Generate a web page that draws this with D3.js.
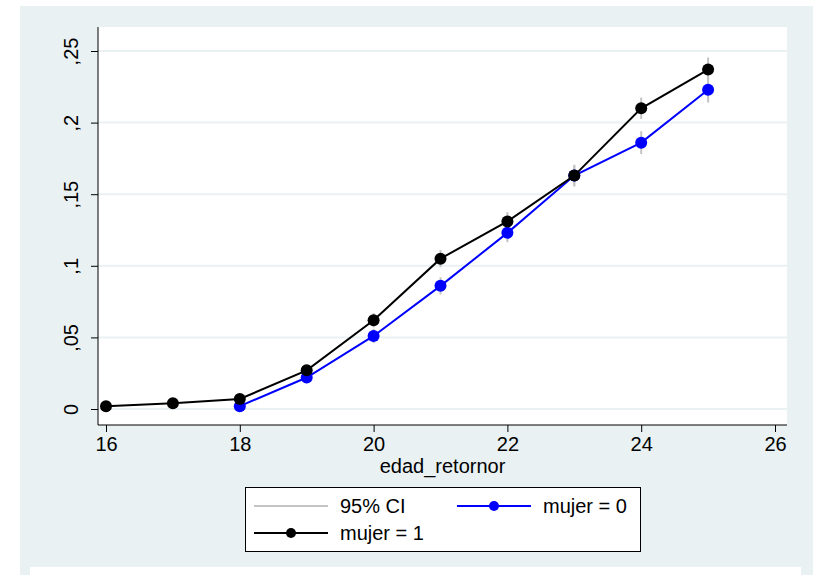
<!DOCTYPE html>
<html>
<head>
<meta charset="utf-8">
<script src="https://cdn.jsdelivr.net/npm/d3@7"></script>
<style>
	body { margin: 0; background: #ffffff; }
	svg { display: block; }
	text { font-family: "Liberation Sans", Arial, sans-serif; fill: #000; }
</style>
</head>
<body>
<div id="chart"></div>
<script>
"use strict";

// ages on the x axis
var edad0 = [18, 19, 20, 21, 22, 23, 24, 25];
var edad1 = [16, 17, 18, 19, 20, 21, 22, 23, 24, 25];
// predicted values
var mujer0 = [0.002, 0.022, 0.051, 0.086, 0.123, 0.163, 0.186, 0.223];
var mujer1 = [0.002, 0.004, 0.007, 0.027, 0.062, 0.105, 0.131, 0.163, 0.210, 0.237];
// half width of 95% CI
var ci0 = [0.0015, 0.004, 0.005, 0.006, 0.0065, 0.0075, 0.008, 0.009];
var ci1 = [0.001, 0.0015, 0.002, 0.004, 0.005, 0.006, 0.0065, 0.0075, 0.0075, 0.0085];

var xTicks = [16, 18, 20, 22, 24, 26];
var yTicks = [0, 0.05, 0.1, 0.15, 0.2, 0.25];
var yTickLabels = ["0", ",05", ",1", ",15", ",2", ",25"];
var legendLabels = ["95% CI", "mujer = 0", "mujer = 1"];
var xTitle = "edad_retornor";

var W = 813, H = 575;
var bg = "#e9f1f3";
var fontSize = 20;
var plot = {left: 98, right: 787, top: 27, bottom: 425};

var svg = d3.select("#chart").append("svg")
	.attr("width", W)
	.attr("height", H);

// graph region
svg.append("rect")
	.attr("x", 20).attr("y", 6)
	.attr("width", W - 20).attr("height", H - 6)
	.attr("fill", bg);
svg.append("rect")
	.attr("x", 30).attr("y", 567)
	.attr("width", 771).attr("height", 8)
	.attr("fill", "#ffffff");

// plot region
svg.append("rect")
	.attr("x", plot.left).attr("y", plot.top)
	.attr("width", plot.right - plot.left)
	.attr("height", plot.bottom - plot.top)
	.attr("fill", "#ffffff");

var scaleX = d3.scaleLinear().domain([16, 26]).range([106, 775]);
var scaleY = d3.scaleLinear().domain([0, 0.25]).range([409, 51]);

// grid lines
svg.append("g")
	.selectAll("line")
	.data(yTicks)
	.enter().append("line")
	.attr("x1", plot.left).attr("x2", plot.right)
	.attr("y1", function(d) { return scaleY(d); })
	.attr("y2", function(d) { return scaleY(d); })
	.attr("stroke", bg)
	.attr("stroke-width", 2);

// axes
var yAxisFunc = d3.axisLeft(scaleY)
	.tickValues(yTicks)
	.tickSizeInner(7)
	.tickSizeOuter(0)
	.tickFormat(function(d, i) { return yTickLabels[i]; });

var yAxis = svg.append("g")
	.attr("transform", "translate(" + plot.left + ",0)")
	.call(yAxisFunc);
yAxis.select(".domain").remove();
yAxis.selectAll(".tick line").attr("stroke", "#000");
yAxis.selectAll(".tick text")
	.attr("font-size", fontSize)
	.attr("font-family", "Liberation Sans, Arial, sans-serif")
	.attr("text-anchor", "middle")
	.attr("dy", null)
	.attr("x", null)
	.attr("y", null)
	.attr("transform", "translate(-20,0) rotate(-90)");
yAxis.append("line")
	.attr("x1", 0).attr("x2", 0)
	.attr("y1", plot.top).attr("y2", plot.bottom)
	.attr("stroke", "#000");

var xAxisFunc = d3.axisBottom(scaleX)
	.tickValues(xTicks)
	.tickSizeInner(7)
	.tickSizeOuter(0)
	.tickPadding(5)
	.tickFormat(d3.format("d"));

var xAxis = svg.append("g")
	.attr("transform", "translate(0," + plot.bottom + ")")
	.call(xAxisFunc);
xAxis.select(".domain").remove();
xAxis.selectAll(".tick line").attr("stroke", "#000");
xAxis.selectAll(".tick text")
	.attr("font-size", fontSize)
	.attr("font-family", "Liberation Sans, Arial, sans-serif");
xAxis.append("line")
	.attr("x1", plot.left).attr("x2", plot.right)
	.attr("y1", 0).attr("y2", 0)
	.attr("stroke", "#000");

svg.append("text")
	.attr("x", (plot.left + plot.right) / 2)
	.attr("y", 473)
	.attr("text-anchor", "middle")
	.attr("font-size", fontSize)
	.text(xTitle);

// series
function makeSeries(xs, ys, cis, color) {
	return xs.map(function(x, i) {
		return {x: x, y: ys[i], ci: cis[i], color: color};
	});
}
var series = [
	makeSeries(edad0, mujer0, ci0, "#0000ff"),
	makeSeries(edad1, mujer1, ci1, "#000000")
];

// confidence intervals first
series.forEach(function(s) {
	svg.append("g")
		.selectAll("line")
		.data(s)
		.enter().append("line")
		.attr("x1", function(d) { return scaleX(d.x); })
		.attr("x2", function(d) { return scaleX(d.x); })
		.attr("y1", function(d) { return scaleY(d.y - d.ci); })
		.attr("y2", function(d) { return scaleY(d.y + d.ci); })
		.attr("stroke", "#c4c4c4")
		.attr("stroke-width", 2);
});

var lineFunc = d3.line()
	.x(function(d) { return scaleX(d.x); })
	.y(function(d) { return scaleY(d.y); });

series.forEach(function(s) {
	svg.append("path")
		.datum(s)
		.attr("d", lineFunc)
		.attr("fill", "none")
		.attr("stroke", s[0].color)
		.attr("stroke-width", 2);
	svg.append("g")
		.selectAll("circle")
		.data(s)
		.enter().append("circle")
		.attr("cx", function(d) { return scaleX(d.x); })
		.attr("cy", function(d) { return scaleY(d.y); })
		.attr("r", 6)
		.attr("fill", s[0].color);
});

// legend
var leg = svg.append("g");
leg.append("rect")
	.attr("x", 245.5).attr("y", 487.5)
	.attr("width", 395).attr("height", 64)
	.attr("fill", "#ffffff")
	.attr("stroke", "#000");

var legItems = [
	{label: legendLabels[0], color: "#c4c4c4", marker: false, x: 254, y: 506},
	{label: legendLabels[1], color: "#0000ff", marker: true, x: 457, y: 506},
	{label: legendLabels[2], color: "#000000", marker: true, x: 254, y: 533}
];
legItems.forEach(function(it) {
	leg.append("line")
		.attr("x1", it.x).attr("x2", it.x + 74)
		.attr("y1", it.y).attr("y2", it.y)
		.attr("stroke", it.color)
		.attr("stroke-width", 2);
	if (it.marker) {
		leg.append("circle")
			.attr("cx", it.x + 37).attr("cy", it.y)
			.attr("r", 5)
			.attr("fill", it.color);
	}
	leg.append("text")
		.attr("x", it.x + 86)
		.attr("y", it.y + 7)
		.attr("font-size", fontSize)
		.text(it.label);
});
</script>
</body>
</html>
